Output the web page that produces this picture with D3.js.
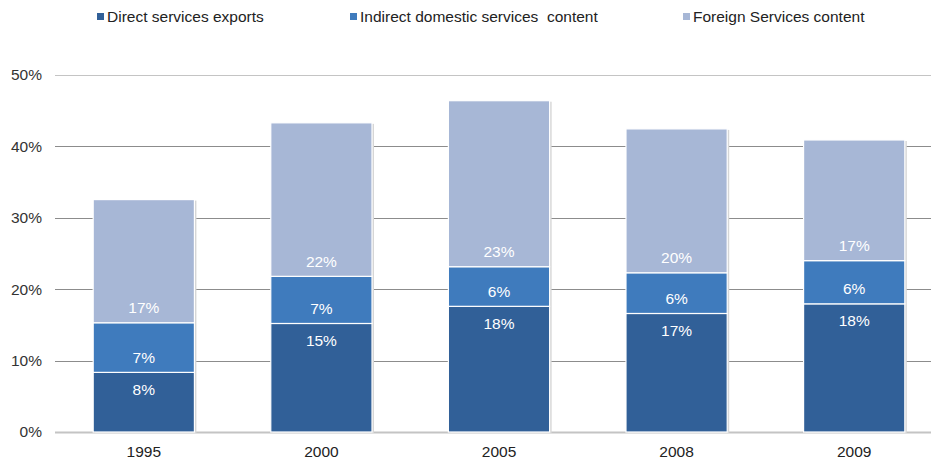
<!DOCTYPE html>
<html>
<head>
<meta charset="utf-8">
<script src="https://cdn.jsdelivr.net/npm/d3@7"></script>
<style>
  html, body { margin: 0; padding: 0; background: #fff; }
  svg { display: block; font-family: "Liberation Sans", Arial, sans-serif; }
</style>
</head>
<body>
<svg id="chart" width="931" height="464"></svg>
<script>
// Services content of exports, share of gross exports (%)
const years = ["1995", "2000", "2005", "2008", "2009"];
const directServices = [8.35, 15.2, 17.6, 16.6, 17.95];
const indirectDomestic = [6.95, 6.6, 5.55, 5.7, 6.05];
const foreignServices = [17.25, 21.5, 23.25, 20.15, 16.9];
const seriesNames = ["Direct services exports", "Indirect domestic services  content", "Foreign Services content"];
const seriesColors = ["#316098", "#3f7bbd", "#a7b7d6"];
const yTicks = [0, 10, 20, 30, 40, 50];

const svg = d3.select("#chart");
const W = 931, H = 464;
const margin = { left: 55, top: 75, bottom: 32 };
const fontSize = 15.5;

const rows = years.map((y, i) => ({
  year: y,
  direct: directServices[i],
  indirect: indirectDomestic[i],
  foreign: foreignServices[i]
}));
const keys = ["direct", "indirect", "foreign"];
const stacked = d3.stack().keys(keys)(rows);

const x = d3.scaleBand().domain(years).range([margin.left, 943]).paddingInner(0.43).paddingOuter(0.215);
const y = d3.scaleLinear().domain([0, 50]).range([H - margin.bottom, margin.top]);

// Gridlines
svg.append("g").selectAll("line").data(yTicks).join("line")
  .attr("x1", margin.left).attr("x2", W)
  .attr("y1", d => Math.round(y(d)) + 0.5).attr("y2", d => Math.round(y(d)) + 0.5)
  .attr("stroke", d => (d === 0 || d === 50) ? "#c4c4c4" : "#8c8c8c")
  .attr("stroke-width", d => d === 0 ? 2 : 1);

// Y axis labels
const yAxis = d3.axisLeft(y).tickValues(yTicks).tickFormat(d => d + "%").tickSize(0).tickPadding(0);
const gy = svg.append("g").attr("transform", "translate(42,0)").call(yAxis);
gy.select(".domain").remove();
gy.selectAll("text").attr("font-size", fontSize).attr("fill", "#333").attr("font-family", "Liberation Sans, Arial, sans-serif");

// X axis labels
const xAxis = d3.axisBottom(x).tickSize(0).tickPadding(0);
const gx = svg.append("g").attr("transform", `translate(0,${H - margin.bottom + 14})`).call(xAxis);
gx.select(".domain").remove();
gx.selectAll("text").attr("font-size", fontSize).attr("fill", "#222").attr("font-family", "Liberation Sans, Arial, sans-serif");

// Bar shadows
svg.append("g").selectAll("rect").data(rows).join("rect")
  .attr("x", d => x(d.year) + 2)
  .attr("y", d => y(d.direct + d.indirect + d.foreign) + 1)
  .attr("width", x.bandwidth())
  .attr("height", d => y(0) - y(d.direct + d.indirect + d.foreign))
  .attr("fill", "#d6d6d6");

// Stacked segments
const layers = svg.append("g").selectAll("g").data(stacked).join("g")
  .attr("fill", (d, i) => seriesColors[i]);
layers.selectAll("rect").data(d => d).join("rect")
  .attr("x", d => x(d.data.year))
  .attr("y", d => y(d[1]))
  .attr("width", x.bandwidth())
  .attr("height", d => y(d[0]) - y(d[1]))
  .attr("stroke", "#fff")
  .attr("stroke-width", 1.2);

// Value labels
layers.each(function(layer, li) {
  d3.select(this).selectAll("text").data(layer).join("text")
    .attr("x", d => x(d.data.year) + x.bandwidth() / 2)
    .attr("y", d => li === 0 ? y(d[1]) + 17 : y(d[0]) - 15)
    .attr("dy", "0.35em")
    .attr("text-anchor", "middle")
    .attr("font-size", fontSize)
    .attr("fill", "#fff")
    .text(d => Math.round(d[1] - d[0]) + "%");
});

// Legend
const legendX = [97, 350, 683];
const lg = svg.append("g").selectAll("g").data(seriesNames).join("g")
  .attr("transform", (d, i) => `translate(${legendX[i]},0)`);
lg.append("rect").attr("x", 0).attr("y", 13).attr("width", 7).attr("height", 7)
  .attr("fill", (d, i) => seriesColors[i]);
lg.append("text").attr("x", 10).attr("y", 17).attr("dy", "0.35em")
  .attr("font-size", fontSize).attr("fill", "#222")
  .attr("xml:space", "preserve").style("white-space", "pre")
  .text(d => d);
</script>
</body>
</html>
